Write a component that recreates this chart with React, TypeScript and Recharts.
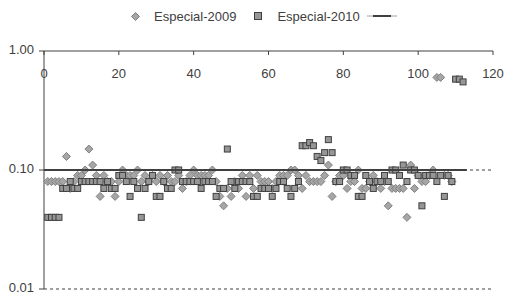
import { ScatterChart, Scatter, XAxis, YAxis, CartesianGrid, Legend } from "recharts";

const seriesNames = ["Especial-2009", "Especial-2010"];
const xTicks = [0, 20, 40, 60, 80, 100, 120];
const yTicks = [0.01, 0.1, 1];

// values by index, x = index + 1
const values2009 = [
  0.08, 0.08, 0.08, 0.08, 0.08, 0.13, 0.07, 0.08, 0.09, 0.09,
  0.1, 0.15, 0.11, 0.09, 0.06, 0.09, 0.08, 0.08, 0.06, 0.08,
  0.1, 0.09, 0.09, 0.09, 0.1, 0.08, 0.09, 0.08, 0.09, 0.08,
  0.09, 0.08, 0.09, 0.08, 0.08, 0.09, 0.07, 0.08, 0.09, 0.1,
  0.09, 0.09, 0.09, 0.09, 0.1, 0.08, 0.06, 0.05, 0.07, 0.06,
  0.08, 0.07, 0.09, 0.06, 0.09, 0.07, 0.09, 0.08, 0.08, 0.08,
  0.07, 0.08, 0.09, 0.09, 0.09, 0.1, 0.1, 0.09, 0.07, 0.09,
  0.08, 0.08, 0.08, 0.08, 0.09, 0.11, 0.06, 0.08, 0.09, 0.09,
  0.07, 0.08, 0.08, 0.1, 0.07, 0.07, 0.08, 0.09, 0.08, 0.07,
  0.08, 0.05, 0.07, 0.07, 0.07, 0.07, 0.04, 0.11, 0.07, 0.09,
  0.08, 0.08, 0.09, 0.1, 0.6, 0.6, 0.09, 0.09, 0.08,
];

const values2010 = [
  0.04, 0.04, 0.04, 0.04, 0.07, 0.07, 0.08, 0.07, 0.07, 0.08,
  0.08, 0.08, 0.08, 0.08, 0.08, 0.07, 0.08, 0.07, 0.07, 0.09,
  0.09, 0.08, 0.06, 0.08, 0.07, 0.04, 0.07, 0.08, 0.09, 0.06,
  0.06, 0.08, 0.07, 0.07, 0.1, 0.1, 0.08, 0.08, 0.08, 0.08,
  0.08, 0.07, 0.08, 0.08, 0.08, 0.06, 0.07, 0.07, 0.15, 0.08,
  0.07, 0.08, 0.08, 0.08, 0.08, 0.06, 0.06, 0.07, 0.07, 0.07,
  0.06, 0.07, 0.08, 0.08, 0.07, 0.06, 0.07, 0.08, 0.16, 0.16,
  0.17, 0.16, 0.13, 0.12, 0.14, 0.18, 0.14, 0.08, 0.08, 0.1,
  0.1, 0.09, 0.09, 0.06, 0.06, 0.09, 0.08, 0.07, 0.08, 0.08,
  0.09, 0.08, 0.1, 0.1, 0.09, 0.11, 0.08, 0.1, 0.1, 0.09,
  0.05, 0.09, 0.09, 0.09, 0.08, 0.09, 0.06, 0.09, 0.08, 0.58,
  0.58, 0.55,
];

const limitX = [0, 113];
const limitValue = 0.1;

const data2009 = values2009.map((y, i) => ({ x: i + 1, y }));
const data2010 = values2010.map((y, i) => ({ x: i + 1, y }));
const limitData = limitX.map((x) => ({ x, y: limitValue }));

const font = "'Liberation Sans', Arial, sans-serif";
const textColor = "#404040";

const Diamond = (props: any) => {
  const { cx, cy } = props;
  if (cx == null || cy == null) return <g />;
  return (
    <polygon
      points={`${cx},${cy - 4} ${cx + 4},${cy} ${cx},${cy + 4} ${cx - 4},${cy}`}
      fill="#a6a6a6"
      stroke="#7f7f7f"
      strokeWidth={1}
    />
  );
};

const Square = (props: any) => {
  const { cx, cy } = props;
  if (cx == null || cy == null) return <g />;
  return <rect x={cx - 3} y={cy - 3} width={6} height={6} fill="#969696" stroke="#404040" strokeWidth={1} />;
};

// x labels sit under the top axis line, inside the plot
const TopTick = (props: any) => {
  const { x, y, payload } = props;
  return (
    <text x={x} y={y + 25} textAnchor="middle" fill={textColor} fontSize={13} fontFamily={font}>
      {payload.value}
    </text>
  );
};

// y labels, nudged up a hair so 0.01 stays inside the frame
const LeftTick = (props: any) => {
  const { x, y, payload } = props;
  return (
    <text x={x} y={y + 3} textAnchor="end" fill={textColor} fontSize={13} fontFamily={font}>
      {Number(payload.value).toFixed(2)}
    </text>
  );
};

const renderLegend = () => (
  <div
    style={{
      height: 24,
      display: "flex",
      alignItems: "center",
      paddingLeft: 131,
      fontFamily: font,
      fontSize: 13,
      color: textColor,
      boxSizing: "border-box",
    }}
  >
    <svg width={9} height={9}>
      <polygon points="4.5,0.5 8.5,4.5 4.5,8.5 0.5,4.5" fill="#a6a6a6" stroke="#7f7f7f" />
    </svg>
    <span style={{ marginLeft: 14 }}>{seriesNames[0]}</span>
    <svg width={8} height={8} style={{ marginLeft: 18 }}>
      <rect x={0.5} y={0.5} width={7} height={7} fill="#969696" stroke="#404040" />
    </svg>
    <span style={{ marginLeft: 15 }}>{seriesNames[1]}</span>
    <svg width={30} height={6} style={{ marginLeft: 7 }}>
      <line x1={0} y1={3} x2={30} y2={3} stroke="#a0a0a0" strokeWidth={1} />
      <line x1={6} y1={3} x2={24} y2={3} stroke="#404040" strokeWidth={2} />
    </svg>
  </div>
);

export default function App() {
  return (
    <div style={{ position: "absolute", left: 0, top: 0, width: 505, height: 295, background: "#fff" }}>
      <ScatterChart width={505} height={295} margin={{ top: 17, right: 12, bottom: 6, left: 0 }}>
        <CartesianGrid
          vertical={false}
          stroke="#404040"
          strokeDasharray="3 3"
          horizontalValues={[0.01, 0.1]}
        />
        <Legend verticalAlign="top" content={renderLegend} wrapperStyle={{ top: 4, left: 0, width: 505 }} />
        <XAxis
          type="number"
          dataKey="x"
          orientation="top"
          height={10}
          domain={[0, 120]}
          ticks={xTicks}
          interval={0}
          tickSize={-4}
          axisLine={{ stroke: textColor }}
          tickLine={{ stroke: textColor }}
          tick={<TopTick />}
        />
        <YAxis
          type="number"
          dataKey="y"
          scale="log"
          domain={[0.01, 1]}
          allowDataOverflow
          ticks={yTicks}
          interval={0}
          width={44}
          tickSize={5}
          tickMargin={5}
          axisLine={{ stroke: textColor }}
          tickLine={{ stroke: textColor }}
          tick={<LeftTick />}
        />
        <Scatter name={seriesNames[0]} data={data2009} shape={Diamond} isAnimationActive={false} />
        <Scatter name={seriesNames[1]} data={data2010} shape={Square} isAnimationActive={false} />
        <Scatter
          data={limitData}
          line={{ stroke: "#404040", strokeWidth: 2 }}
          shape={() => <g />}
          legendType="none"
          isAnimationActive={false}
        />
      </ScatterChart>
    </div>
  );
}
